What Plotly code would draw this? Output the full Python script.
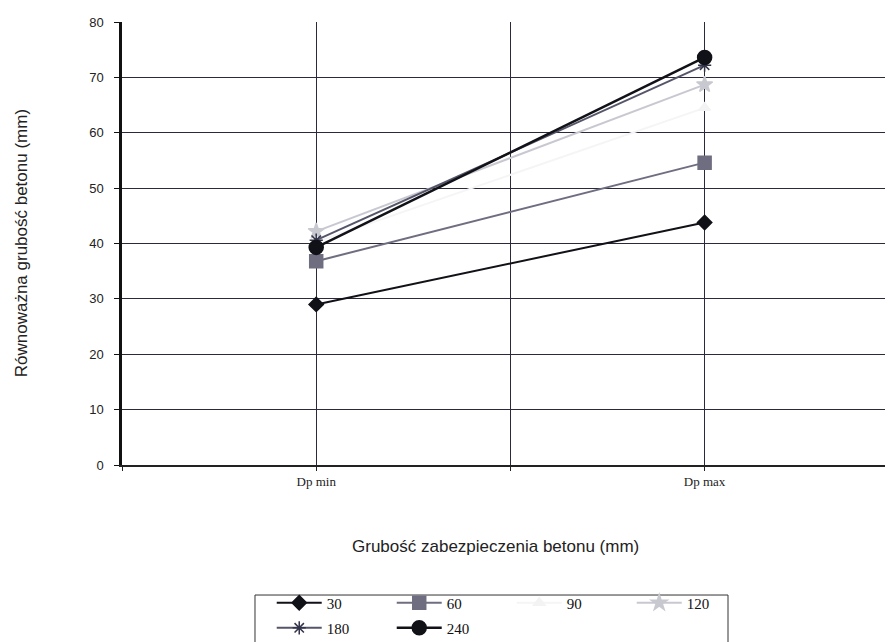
import plotly.graph_objects as go

categories = ["Dp min", "Dp max"]
cat_pos = [1, 3]
series_names = ["30", "60", "90", "120", "180", "240"]
s30 = [29.0, 43.8]
s60 = [36.8, 54.6]
s90 = [40.3, 64.5]
s120 = [42.2, 68.7]
s180 = [40.6, 72.2]
s240 = [39.3, 73.6]
y_ticks = [0, 10, 20, 30, 40, 50, 60, 70, 80]

styles = [
    dict(color="#111118", width=2, symbol="diamond", size=11, mcolor="#111118"),
    dict(color="#6e6e80", width=2, symbol="square", size=13, mcolor="#6e6e80"),
    dict(color="#f5f5f5", width=2, symbol="triangle-up", size=10, mcolor="#f3f3f3"),
    dict(color="#c8c8d0", width=2, symbol="star", size=12, mcolor="#c8c8d0"),
    dict(color="#55556a", width=2, symbol="asterisk", size=11, mcolor="#33334a"),
    dict(color="#111118", width=2.5, symbol="circle", size=14, mcolor="#111118"),
]
data = [s30, s60, s90, s120, s180, s240]
legend_ids = ["legend", "legend", "legend", "legend", "legend2", "legend2"]

fig = go.Figure()
for name, vals, st, lg in zip(series_names, data, styles, legend_ids):
    fig.add_trace(go.Scatter(
        x=cat_pos, y=vals, name=name, mode="lines+markers", legend=lg,
        line=dict(color=st["color"], width=st["width"]),
        marker=dict(symbol=st["symbol"], size=st["size"], color=st["mcolor"],
                    line=dict(color=st["mcolor"], width=1.5)),
    ))

leg_common = dict(
    orientation="h", xanchor="left", yanchor="middle",
    xref="container", yref="container",
    borderwidth=0, bgcolor="rgba(0,0,0,0)",
    font=dict(family="Liberation Serif", size=15, color="#111"),
    entrywidth=60, entrywidthmode="pixels", itemsizing="trace", itemwidth=45,
)

fig.update_layout(
    width=885, height=634,
    margin=dict(l=114, r=0, t=14, b=177, autoexpand=False),
    paper_bgcolor="white", plot_bgcolor="white",
    font=dict(family="Liberation Serif", size=13, color="#111"),
    legend=dict(x=0.298, y=0.0615, **leg_common),
    legend2=dict(x=0.298, y=0.022, **leg_common),
    xaxis=dict(
        range=[0, 3.97], tickvals=[0, 1, 2, 3], ticktext=["", categories[0], "", categories[1]],
        showgrid=True, gridcolor="#2a2a3a", gridwidth=1,
        ticks="outside", ticklen=4, tickcolor="#222",
        showline=True, linecolor="#222", linewidth=1.5,
        zeroline=False, tickfont=dict(family="Liberation Serif", size=13, color="#222"),
    ),
    yaxis=dict(
        range=[0, 80], tickvals=y_ticks, ticktext=[str(v) for v in y_ticks],
        showgrid=True, gridcolor="#2a2a3a", gridwidth=1,
        ticks="outside", ticklen=5, tickcolor="#111",
        showline=True, linecolor="#111", linewidth=2.5, zeroline=False,
        ticklabelstandoff=8,
        tickfont=dict(family="Liberation Sans", size=13, color="#222"),
    ),
    showlegend=True,
)

fig.add_shape(type="rect", xref="paper", yref="paper",
              x0=0.1725, x1=0.786, y0=-0.2935, y1=-0.43,
              line=dict(color="#333", width=1), fillcolor="rgba(0,0,0,0)", layer="below")

fig.add_annotation(text="Równoważna grubość betonu (mm)", xref="paper", yref="paper",
                   x=-0.13, y=0.5, xanchor="center", yanchor="middle", textangle=-90,
                   showarrow=False, font=dict(family="Liberation Sans", size=17, color="#222"))
fig.add_annotation(text="Grubość zabezpieczenia betonu (mm)", xref="paper", yref="paper",
                   x=0.485, y=-0.185, xanchor="center", yanchor="middle",
                   showarrow=False, font=dict(family="Liberation Sans", size=17, color="#222"))

fig.write_html("out.html")
